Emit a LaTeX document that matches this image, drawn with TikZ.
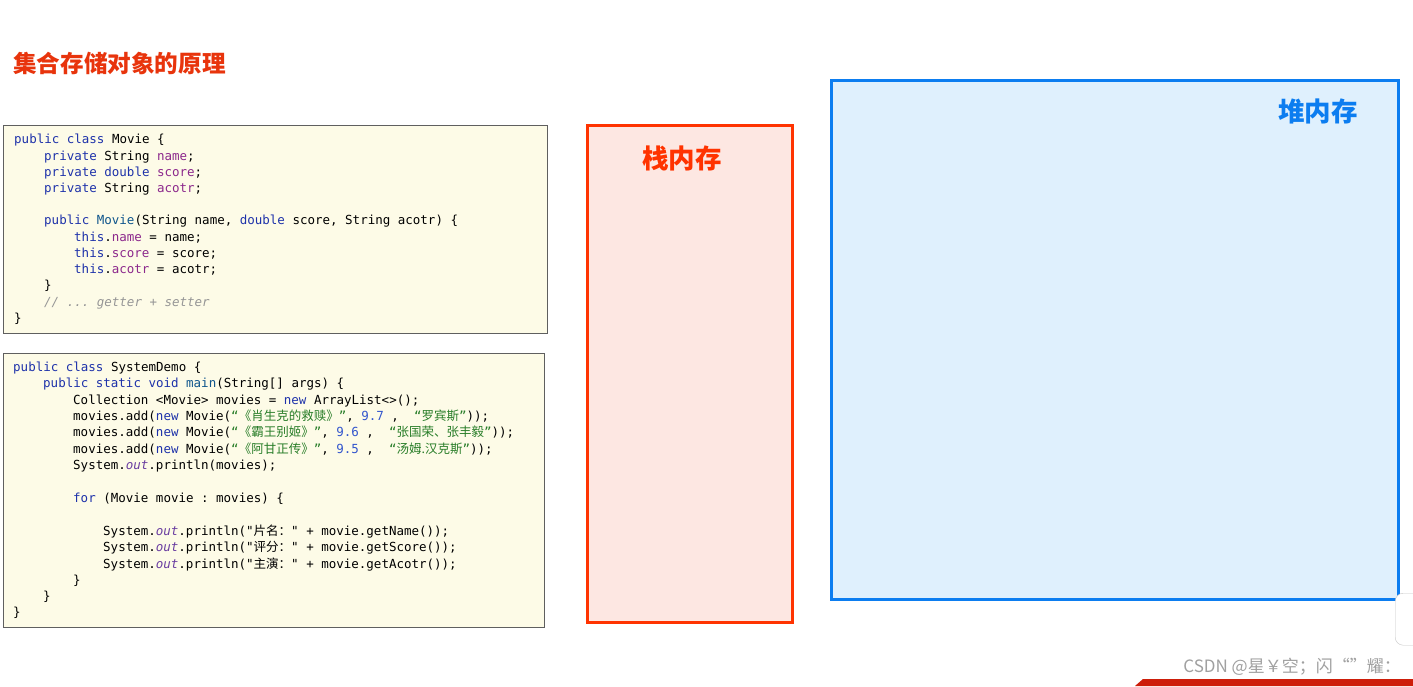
\documentclass[tikz,border=0pt]{standalone}
\usepackage{fontspec}
\setmonofont{DejaVu Sans Mono}
\newfontfamily\cjk{Noto Sans CJK SC}
\definecolor{kwc}{RGB}{30,50,170}
\definecolor{mtc}{RGB}{15,85,140}
\definecolor{flc}{RGB}{140,40,140}
\definecolor{stc}{RGB}{40,125,40}
\definecolor{nmc}{RGB}{50,85,205}
\definecolor{cmc}{RGB}{150,150,150}
\definecolor{otc}{RGB}{105,60,160}
\definecolor{boxgray}{RGB}{95,95,95}
\definecolor{boxfill}{RGB}{253,251,231}
\definecolor{titlered}{RGB}{232,52,12}
\definecolor{stackred}{RGB}{255,51,0}
\definecolor{stackfill}{RGB}{253,231,226}
\definecolor{heapblue}{RGB}{12,125,240}
\definecolor{heapfill}{RGB}{223,240,253}
\definecolor{wmgray}{RGB}{160,160,160}
\definecolor{barred}{RGB}{205,30,10}
\newcommand\codefont{\ttfamily\fontsize{12.5}{14}\selectfont}
\newcommand\jk[1]{\textcolor{kwc}{#1}}
\newcommand\jm[1]{\textcolor{mtc}{#1}}
\newcommand\jf[1]{\textcolor{flc}{#1}}
\newcommand\jn[1]{\textcolor{nmc}{#1}}
\newcommand\jc[1]{\textcolor{cmc}{\itshape #1}}
\newcommand\jo[1]{\textcolor{otc}{\itshape #1}}
\newcommand\jz[1]{{\cjk\fontsize{12.5}{14}\selectfont #1}}
\newcommand\js[1]{\textcolor{stc}{“\jz{#1}”}}
\tikzset{
  codebox/.style={draw=boxgray, fill=boxfill, line width=1pt, anchor=north west, inner sep=0pt},
  codeline/.style={anchor=west, inner sep=0pt, font=\codefont, text height=9pt, text depth=3pt},
  membox/.style={line width=3pt, anchor=north west, inner sep=0pt},
  memlabel/.style={font=\cjk\bfseries\fontsize{26.5}{30}\selectfont, inner sep=0pt}
}
\begin{document}
\begin{tikzpicture}[x=1pt,y=-1pt]
\useasboundingbox[fill=white] (0,0) rectangle (1413,686);
% title
\node[anchor=west, inner sep=0pt, text=titlered, font=\cjk\bfseries\fontsize{23.6}{27}\selectfont] (title) at (13,63) {集合存储对象的原理};
% memory areas
\node[membox, draw=stackred, fill=stackfill, minimum width=205pt, minimum height=497pt] (stack) at (586,124) {};
\node[memlabel, text=stackred] (stacklbl) at (682,158) {栈内存};
\node[membox, draw=heapblue, fill=heapfill, minimum width=567pt, minimum height=519pt] (heap) at (830,79) {};
\node[memlabel, text=heapblue] (heaplbl) at (1318,111) {堆内存};
% code box 1
\node[codebox, minimum width=544pt, minimum height=208pt] (moviebox) at (3,125) {};
\node[codeline] (m1) at (14,140) {\jk{public} \jk{class} Movie \{};
\node[codeline] (m2) at (44,157) {\jk{private} String \jf{name};};
\node[codeline] (m3) at (44,173) {\jk{private} \jk{double} \jf{score};};
\node[codeline] (m4) at (44,189) {\jk{private} String \jf{acotr};};
\node[codeline] (m5) at (44,221) {\jk{public} \jm{Movie}(String name, \jk{double} score, String acotr) \{};
\node[codeline] (m6) at (74,238) {\jk{this}.\jf{name} = name;};
\node[codeline] (m7) at (74,254) {\jk{this}.\jf{score} = score;};
\node[codeline] (m8) at (74,270) {\jk{this}.\jf{acotr} = acotr;};
\node[codeline] (m9) at (44,286) {\}};
\node[codeline] (m10) at (44,303) {\jc{// ... getter + setter}};
\node[codeline] (m11) at (14,319) {\}};
% code box 2
\node[codebox, minimum width=541pt, minimum height=274pt] (demobox) at (3,353) {};
\node[codeline] (s1) at (13,368) {\jk{public} \jk{class} SystemDemo \{};
\node[codeline] (s2) at (43,384) {\jk{public} \jk{static} \jk{void} \jm{main}(String[] args) \{};
\node[codeline] (s3) at (73,401) {Collection <Movie> movies = \jk{new} ArrayList<>();};
\node[codeline] (s4) at (73,417) {movies.add(\jk{new} Movie(\js{《肖生克的救赎》}, \jn{9.7} ,\ \ \js{罗宾斯}));};
\node[codeline] (s5) at (73,433) {movies.add(\jk{new} Movie(\js{《霸王别姬》}, \jn{9.6} ,\ \ \js{张国荣、张丰毅}));};
\node[codeline] (s6) at (73,450) {movies.add(\jk{new} Movie(\js{《阿甘正传》}, \jn{9.5} ,\ \ \js{汤姆.汉克斯}));};
\node[codeline] (s7) at (73,466) {System.\jo{out}.println(movies);};
\node[codeline] (s8) at (73,499) {\jk{for} (Movie movie : movies) \{};
\node[codeline] (s9) at (103,532) {System.\jo{out}.println("\jz{片名：}" + movie.getName());};
\node[codeline] (s10) at (103,548) {System.\jo{out}.println("\jz{评分：}" + movie.getScore());};
\node[codeline] (s11) at (103,565) {System.\jo{out}.println("\jz{主演：}" + movie.getAcotr());};
\node[codeline] (s12) at (73,581) {\}};
\node[codeline] (s13) at (43,597) {\}};
\node[codeline] (s14) at (13,613) {\}};
% screen artefacts
\node[draw=wmgray!60, fill=white, rounded corners=8pt, anchor=north west, minimum width=30pt, minimum height=52pt, inner sep=0pt] (tab) at (1395,593) {};
\node[anchor=east, inner sep=0pt, text=wmgray, font=\cjk\fontsize{17}{20}\selectfont] (wm) at (1401,667) {CSDN @星￥空；闪“”耀：};
\fill[barred] (1135,686) -- (1143,679) -- (1413,679) -- (1413,686) -- cycle;
\end{tikzpicture}
\end{document}
